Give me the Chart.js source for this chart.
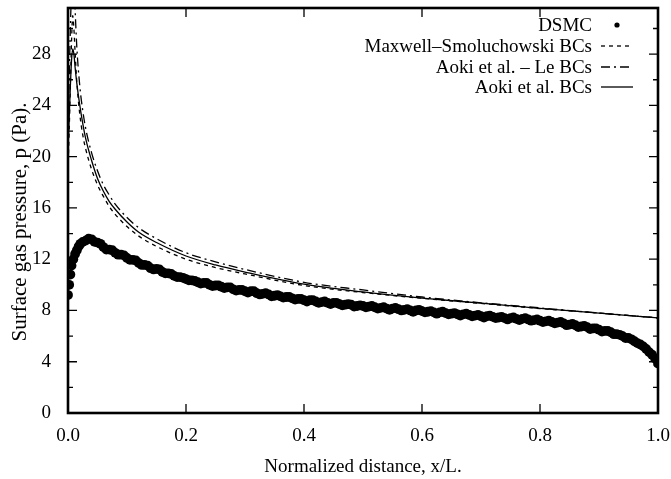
<!DOCTYPE html>
<html>
<head>
<meta charset="utf-8">
<script src="https://cdn.jsdelivr.net/npm/chart.js@4.4.1/dist/chart.umd.min.js"></script>
<style>
  html, body { margin: 0; padding: 0; background: #fff; }
  #wrap { width: 671px; height: 479px; }
</style>
</head>
<body>
<div id="wrap"><canvas id="c" width="671" height="479"></canvas></div>
<script>
// --- data ---
const dsmcX = [0, 0.002, 0.004, 0.006, 0.009, 0.012, 0.015, 0.018, 0.021, 0.025,
  0.03, 0.04, 0.05, 0.06, 0.07, 0.08, 0.09, 0.10, 0.11, 0.12, 0.13, 0.14, 0.15, 0.16, 0.17, 0.18, 0.19,
  0.20, 0.21, 0.22, 0.23, 0.24, 0.25, 0.26, 0.27, 0.28, 0.29, 0.30, 0.31, 0.32, 0.33, 0.34, 0.35, 0.36,
  0.37, 0.38, 0.39, 0.40, 0.41, 0.42, 0.43, 0.44, 0.45, 0.46, 0.47, 0.48, 0.49, 0.50, 0.51, 0.52, 0.53,
  0.54, 0.55, 0.56, 0.57, 0.58, 0.59, 0.60, 0.61, 0.62, 0.63, 0.64, 0.65, 0.66, 0.67, 0.68, 0.69, 0.70,
  0.71, 0.72, 0.73, 0.74, 0.75, 0.76, 0.77, 0.78, 0.79, 0.80, 0.81, 0.82, 0.83, 0.84, 0.85, 0.86, 0.87,
  0.88, 0.89, 0.90, 0.91, 0.92, 0.93, 0.94, 0.95, 0.96, 0.97, 0.98, 0.99, 1.00];
const dsmcY = [9.2, 10.0, 10.8, 11.5, 12.0, 12.4, 12.7, 13.0, 13.2, 13.35,
  13.45, 13.55, 13.3, 12.95, 12.75, 12.5, 12.35, 12.1, 11.95, 11.7, 11.55, 11.3, 11.25, 11.0, 10.9, 10.7, 10.6,
  10.45, 10.35, 10.2, 10.15, 10.0, 9.95, 9.85, 9.8, 9.65, 9.6, 9.5, 9.5, 9.35, 9.3, 9.25, 9.15, 9.1,
  9.05, 8.95, 8.9, 8.8, 8.8, 8.7, 8.65, 8.6, 8.6, 8.5, 8.45, 8.45, 8.35, 8.35, 8.3, 8.25, 8.2,
  8.15, 8.15, 8.1, 8.05, 8.0, 8.0, 7.95, 7.9, 7.85, 7.85, 7.8, 7.75, 7.7, 7.7, 7.65, 7.6, 7.55,
  7.55, 7.5, 7.45, 7.4, 7.4, 7.35, 7.35, 7.3, 7.25, 7.2, 7.15, 7.1, 7.05, 7.0, 6.9, 6.85, 6.75,
  6.7, 6.6, 6.5, 6.4, 6.3, 6.15, 6.0, 5.85, 5.6, 5.35, 5.0, 4.55, 3.85];
// in-between DSMC samples (the scatter of the band)
const dsmcMidX = [0.035, 0.045, 0.055, 0.065, 0.075, 0.085, 0.095, 0.105, 0.115, 0.125, 0.135, 0.145,
  0.155, 0.165, 0.175, 0.185, 0.195, 0.205, 0.215, 0.225, 0.235, 0.245, 0.255, 0.265, 0.275, 0.285,
  0.295, 0.305, 0.315, 0.325, 0.335, 0.345, 0.355, 0.365, 0.375, 0.385, 0.395, 0.405, 0.415, 0.425,
  0.435, 0.445, 0.455, 0.465, 0.475, 0.485, 0.495, 0.505, 0.515, 0.525, 0.535, 0.545, 0.555, 0.565,
  0.575, 0.585, 0.595, 0.605, 0.615, 0.625, 0.635, 0.645, 0.655, 0.665, 0.675, 0.685, 0.695, 0.705,
  0.715, 0.725, 0.735, 0.745, 0.755, 0.765, 0.775, 0.785, 0.795, 0.805, 0.815, 0.825, 0.835, 0.845,
  0.855, 0.865, 0.875, 0.885, 0.895, 0.905, 0.915, 0.925, 0.935, 0.945, 0.955, 0.965, 0.975, 0.985, 0.995];
const dsmcMidY = [13.6, 13.35, 13.2, 12.75, 12.7, 12.35, 12.3, 11.95, 11.9, 11.55, 11.5, 11.2,
  11.2, 10.9, 10.85, 10.6, 10.55, 10.35, 10.3, 10.1, 10.15, 9.9, 9.95, 9.75, 9.8, 9.55,
  9.6, 9.4, 9.5, 9.25, 9.35, 9.1, 9.2, 9.0, 9.05, 8.85, 8.9, 8.7, 8.8, 8.6,
  8.7, 8.5, 8.6, 8.4, 8.5, 8.3, 8.4, 8.25, 8.35, 8.15, 8.25, 8.05, 8.2, 8.0,
  8.1, 7.9, 8.05, 7.85, 7.95, 7.75, 7.9, 7.7, 7.8, 7.6, 7.75, 7.55, 7.65, 7.45,
  7.6, 7.4, 7.5, 7.3, 7.45, 7.25, 7.4, 7.2, 7.3, 7.1, 7.2, 7.0, 7.1, 6.85,
  6.95, 6.7, 6.8, 6.55, 6.6, 6.35, 6.4, 6.15, 6.1, 5.85, 5.75, 5.45, 5.2, 4.75, 4.25];

const modelX = [0, 0.002, 0.004, 0.006, 0.008, 0.01, 0.012, 0.015, 0.02, 0.025, 0.03, 0.04, 0.05,
  0.06, 0.07, 0.08, 0.1, 0.12, 0.15, 0.2, 0.25, 0.3, 0.4, 0.5, 0.6, 0.7, 0.8, 0.9, 1.0];
const maxwellY = [19.0, 22.0, 25.5, 29.0, 31.0, 30.0, 28.2, 25.8, 23.3, 21.7, 20.6, 19.0, 17.8,
  16.9, 16.1, 15.5, 14.55, 13.8, 13.0, 12.0, 11.35, 10.85, 9.95, 9.4, 8.95, 8.55, 8.15, 7.8, 7.42];
const aokiLeY = [22.0, 26.0, 30.0, 33.0, 34.5, 33.5, 31.5, 28.5, 25.5, 23.6, 22.2, 20.3, 18.9,
  17.8, 17.0, 16.3, 15.25, 14.45, 13.6, 12.5, 11.8, 11.2, 10.2, 9.6, 9.05, 8.6, 8.2, 7.8, 7.42];
const aokiY = [20.5, 23.0, 25.5, 27.5, 28.4, 28.0, 27.0, 25.7, 24.0, 22.6, 21.4, 19.7, 18.3,
  17.3, 16.5, 15.9, 14.9, 14.1, 13.3, 12.25, 11.55, 11.0, 10.05, 9.45, 8.97, 8.57, 8.17, 7.8, 7.42];

const xTicks = [0, 0.2, 0.4, 0.6, 0.8, 1.0];
const yTicks = [0, 4, 8, 12, 16, 20, 24, 28];
const yMinorTicks = [2, 6, 10, 14, 18, 22, 26, 30];
const legendLabels = ['DSMC', 'Maxwell\u2013Smoluchowski BCs', 'Aoki et al. \u2013 Le BCs', 'Aoki et al. BCs'];
const yTitle = 'Surface gas pressure, p (Pa).';

const serif = '"Liberation Serif", "DejaVu Serif", serif';
const pts = (xs, ys) => xs.map((v, i) => ({ x: v, y: ys[i] }));

// inward ticks + heavy frame, gnuplot style
const framePlugin = {
  id: 'frame',
  afterDatasetsDraw(chart) {
    const { ctx, chartArea: a, scales: { x, y } } = chart;
    ctx.save();
    ctx.strokeStyle = '#000';
    ctx.lineWidth = 1.3;
    ctx.setLineDash([]);
    ctx.beginPath();
    xTicks.forEach(v => {
      const px = x.getPixelForValue(v);
      ctx.moveTo(px, a.bottom); ctx.lineTo(px, a.bottom - 9);
      ctx.moveTo(px, a.top); ctx.lineTo(px, a.top + 9);
    });
    yTicks.forEach(v => {
      const py = y.getPixelForValue(v);
      ctx.moveTo(a.left, py); ctx.lineTo(a.left + 9, py);
      ctx.moveTo(a.right, py); ctx.lineTo(a.right - 9, py);
    });
    yMinorTicks.forEach(v => {
      const py = y.getPixelForValue(v);
      ctx.moveTo(a.left, py); ctx.lineTo(a.left + 5, py);
      ctx.moveTo(a.right, py); ctx.lineTo(a.right - 5, py);
    });
    ctx.stroke();
    ctx.lineWidth = 2.6;
    ctx.strokeRect(a.left, a.top, a.right - a.left, a.bottom - a.top);
    ctx.restore();
  }
};

// legend: right-aligned text, sample to the right; plus the rotated y title
const legendPlugin = {
  id: 'sideLegend',
  afterDraw(chart) {
    const ctx = chart.ctx;
    const textRight = 592, x0 = 601, x1 = 633;
    const rows = [25, 46, 67, 87];
    ctx.save();
    ctx.font = '19px ' + serif;
    ctx.fillStyle = '#000';
    ctx.strokeStyle = '#000';
    ctx.textAlign = 'right';
    ctx.textBaseline = 'middle';
    legendLabels.forEach((lab, i) => {
      ctx.fillText(lab, textRight, rows[i] + 1);
      const ds = chart.data.datasets[i];
      if (i === 0) {
        ctx.beginPath();
        ctx.arc((x0 + x1) / 2, rows[i], 2.6, 0, Math.PI * 2);
        ctx.fill();
      } else {
        ctx.lineWidth = 1.3;
        ctx.setLineDash(ds.borderDash || []);
        ctx.beginPath();
        ctx.moveTo(x0, rows[i]); ctx.lineTo(x1, rows[i]);
        ctx.stroke();
      }
    });
    ctx.setLineDash([]);
    ctx.translate(20, 222);
    ctx.rotate(-Math.PI / 2);
    ctx.textAlign = 'center';
    ctx.font = '21px ' + serif;
    ctx.fillText(yTitle, 0, 0);
    ctx.restore();
  }
};

const noPad = axis => { axis.paddingLeft = 0; axis.paddingRight = 0; axis.paddingTop = 0; axis.paddingBottom = 0; };

new Chart(document.getElementById('c'), {
  type: 'scatter',
  data: {
    datasets: [
      { label: legendLabels[0], data: pts(dsmcX, dsmcY).concat(pts(dsmcMidX, dsmcMidY)), pointRadius: 4.9,
        pointBackgroundColor: '#000', pointBorderWidth: 0, showLine: false },
      { label: legendLabels[1], data: pts(modelX, maxwellY), showLine: true, pointRadius: 0,
        borderColor: '#000', borderWidth: 1.3, borderDash: [4, 4], cubicInterpolationMode: 'monotone' },
      { label: legendLabels[2], data: pts(modelX, aokiLeY), showLine: true, pointRadius: 0,
        borderColor: '#000', borderWidth: 1.3, borderDash: [9, 4, 2, 4], cubicInterpolationMode: 'monotone' },
      { label: legendLabels[3], data: pts(modelX, aokiY), showLine: true, pointRadius: 0,
        borderColor: '#000', borderWidth: 1.3, cubicInterpolationMode: 'monotone' }
    ]
  },
  options: {
    responsive: false,
    animation: false,
    devicePixelRatio: 1,
    layout: { padding: { left: 0, right: 13, top: 8, bottom: 0 } },
    plugins: { legend: { display: false }, tooltip: { enabled: false } },
    scales: {
      x: {
        type: 'linear', min: 0, max: 1,
        afterBuildTicks: axis => { axis.ticks = xTicks.map(v => ({ value: v })); },
        afterFit: axis => { axis.height = 66; noPad(axis); },
        grid: { display: false, drawTicks: false },
        border: { display: false },
        ticks: { color: '#000', font: { family: serif, size: 19 }, padding: 12,
          maxRotation: 0, callback: v => Number(v).toFixed(1) },
        title: { display: true, text: 'Normalized distance, x/L.', color: '#000',
          font: { family: serif, size: 19 }, padding: { top: 0, bottom: 1 } }
      },
      y: {
        type: 'linear', min: 0, max: 31.6,
        afterBuildTicks: axis => { axis.ticks = yTicks.map(v => ({ value: v })); },
        afterFit: axis => { axis.width = 68; noPad(axis); },
        grid: { display: false, drawTicks: false },
        border: { display: false },
        ticks: { color: '#000', font: { family: serif, size: 19 }, padding: 17 }
      }
    }
  },
  plugins: [framePlugin, legendPlugin]
});
</script>
</body>
</html>
